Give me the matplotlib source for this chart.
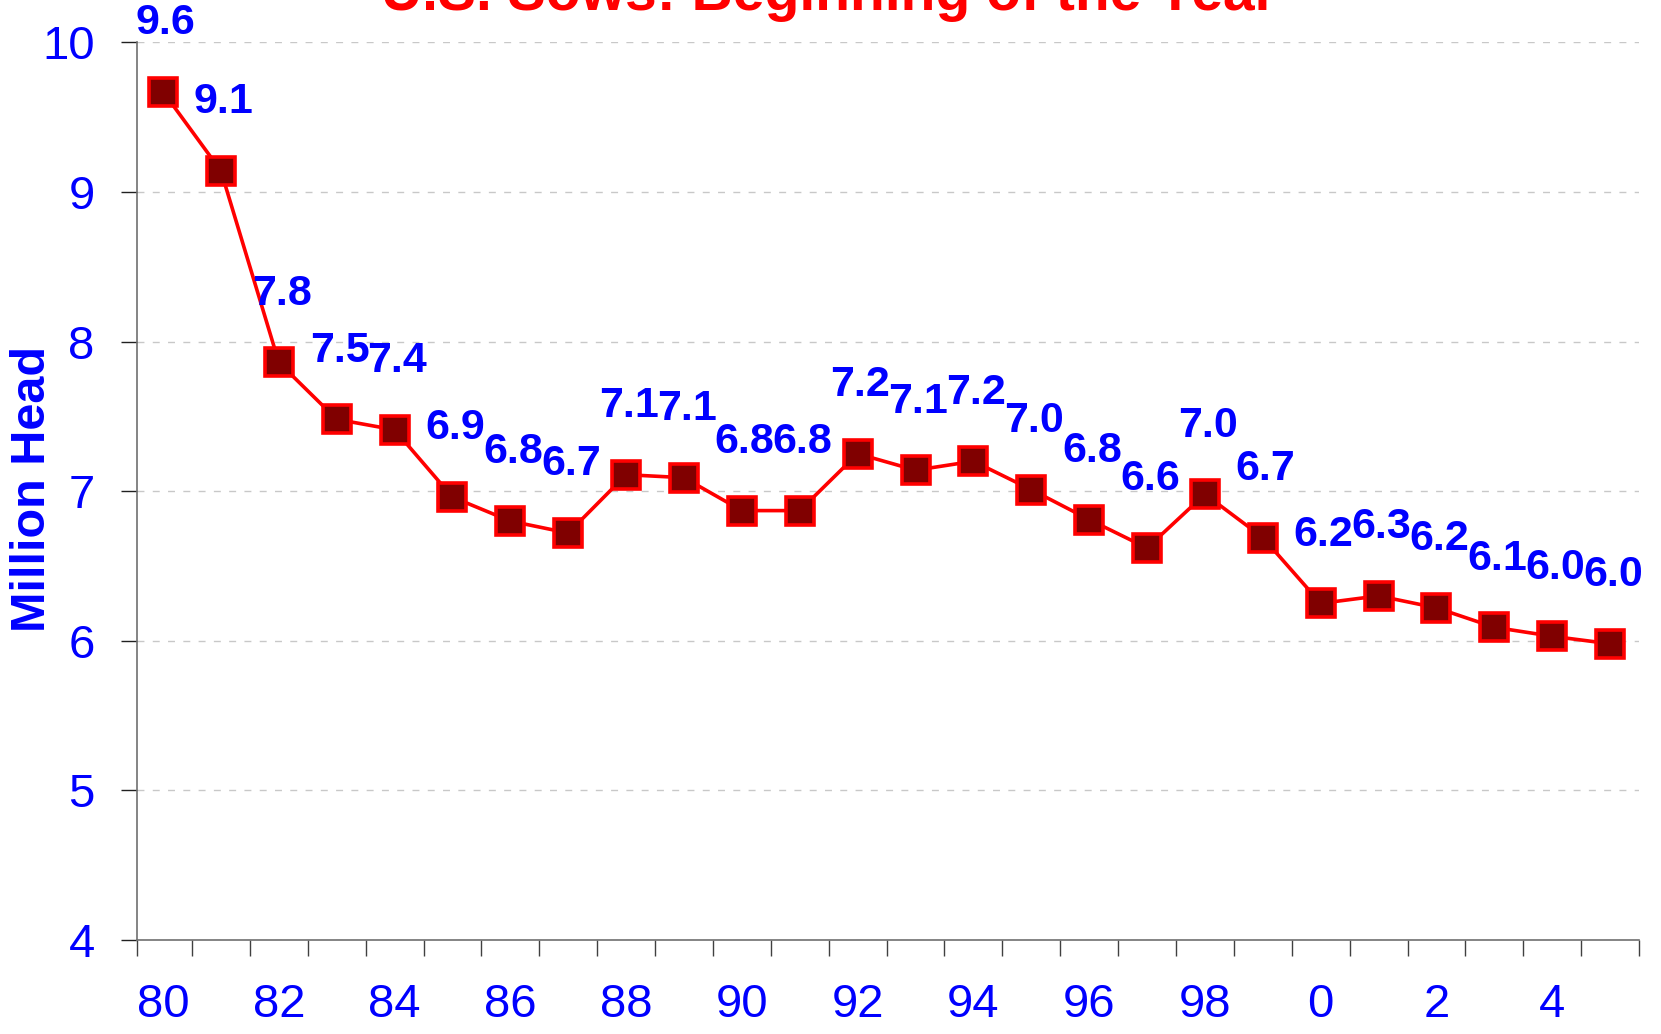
import matplotlib
matplotlib.use('Agg')
import matplotlib.pyplot as plt

# sows on hand, beginning of year (million head)
years = ['80', '81', '82', '83', '84', '85', '86', '87', '88', '89',
         '90', '91', '92', '93', '94', '95', '96', '97', '98', '99',
         '0', '1', '2', '3', '4', '5']
sows = [9.67, 9.14, 7.86, 7.48, 7.41, 6.96, 6.80, 6.72, 7.11, 7.09,
        6.87, 6.87, 7.25, 7.14, 7.20, 7.01, 6.81, 6.62, 6.98, 6.69,
        6.25, 6.30, 6.22, 6.09, 6.03, 5.98]
value_labels = ['9.6', '9.1', '7.8', '7.5', '7.4', '6.9', '6.8', '6.7', '7.1', '7.1',
                '6.8', '6.8', '7.2', '7.1', '7.2', '7.0', '6.8', '6.6', '7.0', '6.7',
                '6.2', '6.3', '6.2', '6.1', '6.0', '6.0']
y_ticks = [4, 5, 6, 7, 8, 9, 10]

blue = '#0000ff'
red = '#ff0000'

plt.rcParams['font.family'] = ['Liberation Sans', 'DejaVu Sans']
plt.rcParams['lines.scale_dashes'] = False

fig = plt.figure(figsize=(16.61, 10.34), dpi=100)
ax = fig.add_axes([0.0825, 0.0909, 0.9043, 0.8682])

x = list(range(len(years)))
ax.plot(x, sows, color=red, lw=2.6, marker='s', ms=20.5,
        mfc='#800000', mec=red, mew=2.6, zorder=3)

for xi, v, lab in zip(x, sows, value_labels):
    ax.annotate(lab, (xi, v), xytext=(2, 41.5), textcoords='offset points',
                ha='center', va='baseline', fontsize=31, fontweight='bold',
                color=blue)

ax.set_ylim(4, 10)
ax.set_yticks(y_ticks)
ax.set_yticklabels([str(t) for t in y_ticks])
ax.set_xlim(-0.45, 25.5)

# ticks on the category boundaries, labels on every other category
ax.set_xticks([-0.45] + [k + 0.5 for k in range(len(years))])
ax.set_xticklabels([])
ax.set_xticks(x[::2], minor=True)
ax.set_xticklabels(years[::2], minor=True)
ax.tick_params(axis='x', which='major', length=11.5, width=1, color='#404040')
ax.tick_params(axis='x', which='minor', length=0, pad=31, labelsize=34,
               labelcolor=blue)
ax.tick_params(axis='y', length=11.5, width=1, color='#202020', pad=19,
               labelsize=34, labelcolor=blue)

for side in ['top', 'right']:
    ax.spines[side].set_visible(False)
for side in ['left', 'bottom']:
    ax.spines[side].set_color('#707070')
    ax.spines[side].set_linewidth(1.2)

ax.set_axisbelow(True)
ax.yaxis.grid(True, color='#c8c8c8', lw=1, dashes=(5, 6))

fig.text(829 / 1661, 1 - 10 / 1034, 'U.S. Sows: Beginning of the Year',
         ha='center', va='baseline', fontsize=41, fontweight='bold', color=red)
fig.text(33 / 1661, 1 - 489 / 1034, 'Million Head', rotation=90,
         ha='center', va='center', fontsize=35, fontweight='bold', color=blue)

fig.savefig('out.png', dpi=100)
